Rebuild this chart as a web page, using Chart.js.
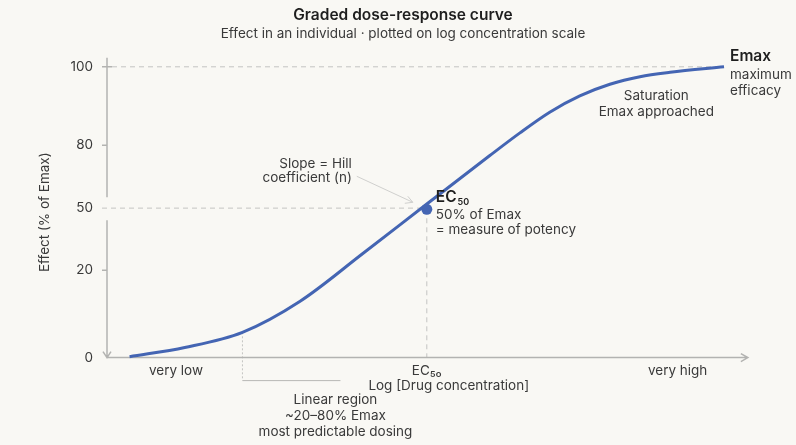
<!DOCTYPE html>
<html>
<head>
<meta charset="utf-8">
<script src="https://cdn.jsdelivr.net/npm/chart.js@4/dist/chart.umd.min.js"></script>
<style>
  html, body { margin: 0; background: #f9f8f4; }
  #wrap { width: 796px; height: 445px; }
</style>
</head>
<body>
<div id="wrap"><canvas id="chart"></canvas></div>
<script>
// log concentration (EC50 = 0) and effect position
const logConc = [-2.37, -1.93, -1.47, -1.01, -0.51, 0, 0.50, 0.74, 0.98, 1.22, 1.46, 1.70, 1.94, 2.37];
const effect  = [0.3, 3.5, 8.7, 19.4, 35.8, 52.8, 69.4, 77.2, 84.4, 90.0, 94.0, 96.6, 98.1, 100];

const ec50Point = [0, 51];
const linearStart = [-1.47, 8.7];
const axisEnd = 2.56;

const xTickValues = [-2, 0, 2];
const xTickLabels = ["very low", "EC₅₀", "very high"];
const yTickValues = [0, 30, 51.4, 73, 100];
const yTickLabels = ["0", "20", "50", "80", "100"];

const FONT = "Inter, 'Noto Sans', sans-serif";
const BLUE = "#4465b3";
const TEXT = "#3a3a3a";

const drawExtras = {
  id: "drawExtras",
  beforeDraw(chart) {
    const { ctx } = chart;
    ctx.save();
    ctx.fillStyle = "#f9f8f4";
    ctx.fillRect(0, 0, chart.width, chart.height);
    ctx.restore();
  },
  beforeDatasetsDraw(chart) {
    const { ctx, scales: { x, y } } = chart;
    const left = x.left, bottom = y.bottom;
    const right = x.getPixelForValue(axisEnd);
    const y100 = y.getPixelForValue(100);
    const y50 = y.getPixelForValue(51.4);
    const ecX = x.getPixelForValue(ec50Point[0]);
    const ecY = y.getPixelForValue(ec50Point[1]);
    const endX = x.getPixelForValue(logConc[logConc.length - 1]);

    ctx.save();
    // dashed guides
    ctx.strokeStyle = "#c4c4c2";
    ctx.lineWidth = 1;
    ctx.setLineDash([5, 4]);
    ctx.beginPath();
    ctx.moveTo(left + 5, y100); ctx.lineTo(endX, y100);
    ctx.moveTo(left - 5, y50); ctx.lineTo(ecX, y50);
    ctx.moveTo(ecX, ecY); ctx.lineTo(ecX, bottom);
    ctx.stroke();

    // linear region marker
    const lx = x.getPixelForValue(linearStart[0]);
    const ly = y.getPixelForValue(linearStart[1]);
    ctx.setLineDash([2, 2]);
    ctx.beginPath();
    ctx.moveTo(lx, ly); ctx.lineTo(lx, bottom + 23);
    ctx.stroke();
    ctx.setLineDash([]);
    ctx.strokeStyle = "#b8b8b6";
    ctx.beginPath();
    ctx.moveTo(lx, bottom + 23); ctx.lineTo(lx + 98, bottom + 23);
    ctx.stroke();

    // axes
    ctx.strokeStyle = "#b3b3b1";
    ctx.lineWidth = 1.5;
    ctx.beginPath();
    ctx.moveTo(left, y.top - 9); ctx.lineTo(left, y50 - 11);
    ctx.moveTo(left, y50 + 12); ctx.lineTo(left, bottom);
    ctx.moveTo(left, bottom); ctx.lineTo(right, bottom);
    // arrows
    ctx.moveTo(left - 4, bottom - 6); ctx.lineTo(left, bottom); ctx.lineTo(left + 4, bottom - 6);
    ctx.moveTo(right - 7, bottom - 4); ctx.lineTo(right, bottom); ctx.lineTo(right - 7, bottom + 4);
    // y tick marks
    ctx.moveTo(left - 5, y100); ctx.lineTo(left + 5, y100);
    [30, 73].forEach(v => {
      const p = y.getPixelForValue(v);
      ctx.moveTo(left - 5, p); ctx.lineTo(left, p);
    });
    ctx.stroke();

    // Hill slope pointer
    ctx.strokeStyle = "#d0d0ce";
    ctx.lineWidth = 1;
    ctx.beginPath();
    ctx.moveTo(ecX - 70, ecY - 33); ctx.lineTo(ecX - 14, ecY - 7);
    ctx.moveTo(ecX - 22, ecY - 6); ctx.lineTo(ecX - 14, ecY - 7); ctx.lineTo(ecX - 19, ecY - 13);
    ctx.stroke();
    ctx.restore();
  },
  afterDraw(chart) {
    const { ctx, scales: { x, y } } = chart;
    const ecX = x.getPixelForValue(ec50Point[0]);
    const ecY = y.getPixelForValue(ec50Point[1]);
    const endX = x.getPixelForValue(logConc[logConc.length - 1]);
    const endY = y.getPixelForValue(effect[effect.length - 1]);
    const lx = x.getPixelForValue(linearStart[0]);
    const bottom = y.bottom;

    ctx.save();
    ctx.textBaseline = "middle";

    // EC50 label
    ctx.textAlign = "left";
    ctx.fillStyle = "#1e1e1e";
    ctx.font = "600 15.5px " + FONT;
    ctx.fillText("EC", ecX + 9, ecY - 12);
    const w = ctx.measureText("EC").width;
    ctx.font = "600 9px " + FONT;
    ctx.fillText("50", ecX + 10 + w, ecY - 7);
    ctx.fillStyle = TEXT;
    ctx.font = "13.5px " + FONT;
    ctx.fillText("50% of Emax", ecX + 9, ecY + 6);
    ctx.fillText("= measure of potency", ecX + 9, ecY + 21);

    // Emax label
    ctx.fillStyle = "#1e1e1e";
    ctx.font = "600 15.5px " + FONT;
    ctx.fillText("Emax", endX + 6, endY - 10);
    ctx.fillStyle = TEXT;
    ctx.font = "13.5px " + FONT;
    ctx.fillText("maximum", endX + 6, endY + 8);
    ctx.fillText("efficacy", endX + 6, endY + 24);

    // saturation
    ctx.textAlign = "center";
    ctx.fillText("Saturation", x.getPixelForValue(1.83), y.getPixelForValue(90));
    ctx.fillText("Emax approached", x.getPixelForValue(1.83), y.getPixelForValue(84.4));

    // slope
    ctx.textAlign = "right";
    ctx.fillText("Slope = Hill", ecX - 75, ecY - 45);
    ctx.fillText("coefficient (n)", ecX - 75, ecY - 31);

    // linear region
    ctx.textAlign = "center";
    ctx.fillText("Linear region", lx + 93, bottom + 42);
    ctx.fillText("~20–80% Emax", lx + 93, bottom + 58);
    ctx.fillText("most predictable dosing", lx + 93, bottom + 74);
    ctx.restore();
  }
};

new Chart(document.getElementById("chart"), {
  type: "line",
  data: {
    datasets: [
      {
        data: logConc.map((v, i) => ({ x: v, y: effect[i] })),
        borderColor: BLUE,
        borderWidth: 3,
        pointRadius: 0,
        cubicInterpolationMode: "monotone",
        clip: false
      },
      {
        data: [{ x: ec50Point[0], y: ec50Point[1] }],
        showLine: false,
        pointRadius: 5.5,
        pointBackgroundColor: BLUE,
        pointBorderWidth: 0
      }
    ]
  },
  options: {
    responsive: true,
    maintainAspectRatio: false,
    animation: false,
    layout: { padding: { left: 10, right: 0, bottom: 51 } },
    plugins: {
      legend: { display: false },
      tooltip: { enabled: false },
      title: {
        display: true,
        text: "Graded dose-response curve",
        color: "#1e1e1e",
        font: { family: FONT, size: 15.5, weight: "600" },
        padding: { top: 6, bottom: 0 }
      },
      subtitle: {
        display: true,
        text: "Effect in an individual · plotted on log concentration scale",
        color: TEXT,
        font: { family: FONT, size: 13.5 },
        padding: { top: 1, bottom: 25 }
      }
    },
    scales: {
      x: {
        type: "linear",
        min: -2.55,
        max: 2.9,
        grid: { display: false, drawTicks: false },
        border: { display: false },
        afterBuildTicks: (scale) => { scale.ticks = xTickValues.map(v => ({ value: v })); },
        ticks: {
          padding: 5,
          color: TEXT,
          font: { family: FONT, size: 13.5 },
          callback: (v, i) => xTickLabels[i]
        },
        title: {
          display: true,
          text: "Log [Drug concentration]",
          color: TEXT,
          font: { family: FONT, size: 13.5 },
          padding: { top: -6, bottom: 0 }
        }
      },
      y: {
        type: "linear",
        min: 0,
        max: 100,
        grid: { display: false, drawTicks: false },
        border: { display: false },
        afterFit: (scale) => { scale.width = 97; },
        afterBuildTicks: (scale) => { scale.ticks = yTickValues.map(v => ({ value: v })); },
        ticks: {
          padding: 14,
          color: TEXT,
          font: { family: FONT, size: 13.5 },
          callback: (v, i) => yTickLabels[i]
        },
        title: {
          display: true,
          text: "Effect (% of Emax)",
          color: TEXT,
          font: { family: FONT, size: 13.5 },
          padding: { top: 27, bottom: 0 }
        }
      }
    }
  },
  plugins: [drawExtras]
});
</script>
</body>
</html>
